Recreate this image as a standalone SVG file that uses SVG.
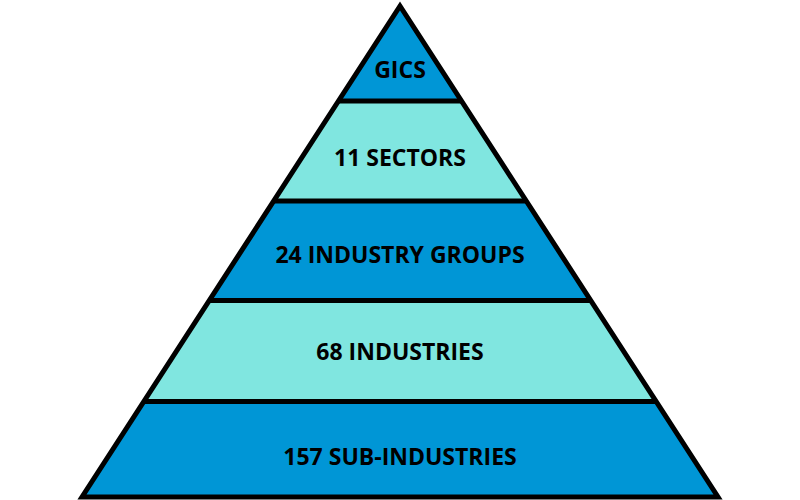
<svg xmlns="http://www.w3.org/2000/svg" width="800" height="500" viewBox="0 0 800 500">
<style>
.dark{fill:#0096D6}
.light{fill:#80E6E0}
.sep{stroke:#000;stroke-width:5}
.lbl{font-family:"Open Sans","DejaVu Sans",sans-serif;font-weight:bold;font-size:23px;fill:#000;text-anchor:middle;dominant-baseline:central}
</style>
<defs>
<clipPath id="tri"><polygon points="400,6 82,497 718,497"/></clipPath>
</defs>
<rect width="800" height="500" fill="#fff"/>
<g clip-path="url(#tri)">
<g id="gics"><rect class="dark" x="0" y="0" width="800" height="101"/><text class="lbl" x="400" y="69">GICS</text></g>
<g id="sectors"><rect class="light" x="0" y="101" width="800" height="100"/><text class="lbl" x="400" y="157">11 SECTORS</text></g>
<g id="groups"><rect class="dark" x="0" y="201" width="800" height="99.5"/><text class="lbl" x="400" y="254">24 INDUSTRY GROUPS</text></g>
<g id="industries"><rect class="light" x="0" y="300.5" width="800" height="101"/><text class="lbl" x="400" y="351">68 INDUSTRIES</text></g>
<g id="subindustries"><rect class="dark" x="0" y="401.5" width="800" height="100"/><text class="lbl" x="400" y="456">157 SUB-INDUSTRIES</text></g>
<g id="separators">
<line class="sep" x1="0" y1="101" x2="800" y2="101"/>
<line class="sep" x1="0" y1="201" x2="800" y2="201"/>
<line class="sep" x1="0" y1="300.5" x2="800" y2="300.5"/>
<line class="sep" x1="0" y1="401.5" x2="800" y2="401.5"/>
</g>
</g>
<polygon id="outline" points="400,6 82,497 718,497" fill="none" stroke="#000" stroke-width="5"/>
</svg>
